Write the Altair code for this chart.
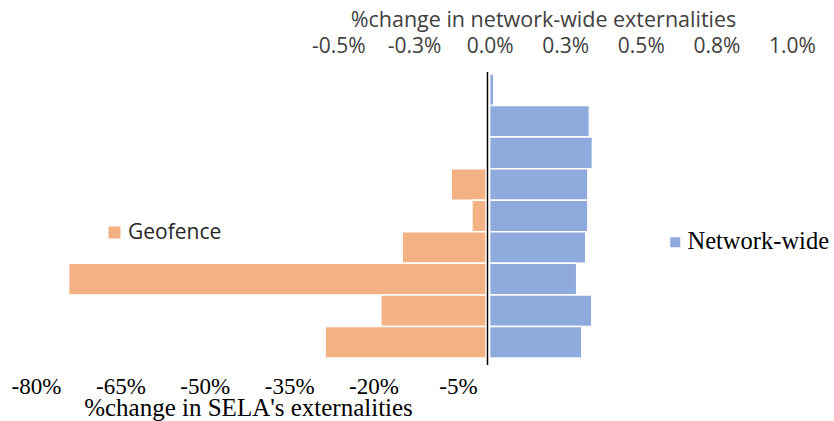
import altair as alt
import pandas as pd

# ---- data ----
categories = ["C1", "C2", "C3", "C4", "C5", "C6", "C7", "C8", "C9"]
geofence = [None, None, None, -6.2, -2.5, -14.9, -74.2, -18.7, -28.6]      # % change in SELA's externalities
network = [0.014, 0.33, 0.34, 0.325, 0.325, 0.318, 0.288, 0.338, 0.305]   # % change network-wide
bottom_ticks = [-80, -65, -50, -35, -20, -5]
bottom_labels = ["-80%", "-65%", "-50%", "-35%", "-20%", "-5%"]
top_ticks = [-0.5, -0.25, 0, 0.25, 0.5, 0.75, 1.0]
top_labels = ["-0.5%", "-0.3%", "0.0%", "0.3%", "0.5%", "0.8%", "1.0%"]
series_names = ["Geofence", "Network-wide"]
colors = ["#F4B183", "#8FAADC"]


def label_expr(ticks, labels):
    expr = "''"
    for t, l in reversed(list(zip(ticks, labels))):
        expr = f"datum.value == {t} ? '{l}' : ({expr})"
    return expr


df = pd.DataFrame({
    "category": categories,
    "geofence": geofence,
    "network": network,
    "gname": series_names[0],
    "nname": series_names[1],
})

W, H = 756, 284
SANS = "Open Sans"
SERIF = "Liberation Serif"

y_enc = alt.Y("category:N", sort=categories, axis=None,
              scale=alt.Scale(domain=categories, paddingInner=0, paddingOuter=0))

orange = alt.Chart(df).mark_bar(stroke="white", strokeWidth=1.5).encode(
    x=alt.X("geofence:Q",
            scale=alt.Scale(domain=[-80, 54.4], nice=False, zero=False),
            axis=alt.Axis(orient="bottom", values=bottom_ticks,
                          labelExpr=label_expr(bottom_ticks, bottom_labels),
                          grid=False, domain=False, ticks=False,
                          labelFont=SERIF, labelFontSize=23, labelColor="black",
                          labelPadding=17, labelFlush=False, labelOverlap=False,
                          title="%change in SELA's externalities",
                          titleFont=SERIF, titleFontSize=25, titleFontWeight="normal",
                          titleColor="black", titleX=212, titleY=57,
                          titleAlign="center", titleBaseline="alphabetic")),
    y=y_enc,
    color=alt.Color("gname:N",
                    scale=alt.Scale(domain=[series_names[0]], range=[colors[0]]),
                    legend=alt.Legend(title=None, orient="none", legendX=68, legendY=148,
                                      symbolType="square", symbolSize=144,
                                      symbolStrokeWidth=0, labelFont=SANS,
                                      labelFontSize=21, labelColor="#262626",
                                      labelOffset=3, padding=0)),
)

rule = alt.Chart(pd.DataFrame({"z": [0]})).mark_rule(
    color="black", strokeWidth=1.5, xOffset=1.5
).encode(x=alt.datum(0), y=alt.value(-2), y2=alt.value(H + 7))

blue = alt.Chart(df).mark_bar(stroke="white", strokeWidth=1.5).encode(
    x=alt.X("network:Q",
            scale=alt.Scale(domain=[-1.5, 1.0], nice=False, zero=False),
            axis=alt.Axis(orient="top", values=top_ticks,
                          labelExpr=label_expr(top_ticks, top_labels),
                          grid=False, domain=False, ticks=False,
                          labelFont=SANS, labelFontSize=21, labelColor="#404040",
                          labelPadding=18, labelFlush=False, labelOverlap=False,
                          title="%change in network-wide externalities",
                          titleFont=SANS, titleFontSize=21.5, titleFontWeight="normal",
                          titleColor="#404040", titleX=507, titleY=-48,
                          titleAlign="center", titleBaseline="alphabetic")),
    y=y_enc,
    color=alt.Color("nname:N",
                    scale=alt.Scale(domain=[series_names[1]], range=[colors[1]]),
                    legend=alt.Legend(title=None, orient="none", legendX=627, legendY=156,
                                      symbolType="square", symbolSize=100,
                                      symbolStrokeWidth=0, labelFont=SERIF,
                                      labelFontSize=24.5, labelColor="black",
                                      labelOffset=0, padding=0)),
)

chart = (
    alt.layer(alt.layer(orange, rule), blue)
    .resolve_scale(x="independent", color="independent")
    .resolve_legend(color="independent")
    .properties(width=W, height=H,
                autosize=alt.AutoSizeParams(type="none"),
                padding={"left": 36, "top": 74, "right": 42, "bottom": 63},
                background="white")
    .configure_view(stroke=None)
)

chart.save("out.html", embed_options={"renderer": "svg", "actions": False})
